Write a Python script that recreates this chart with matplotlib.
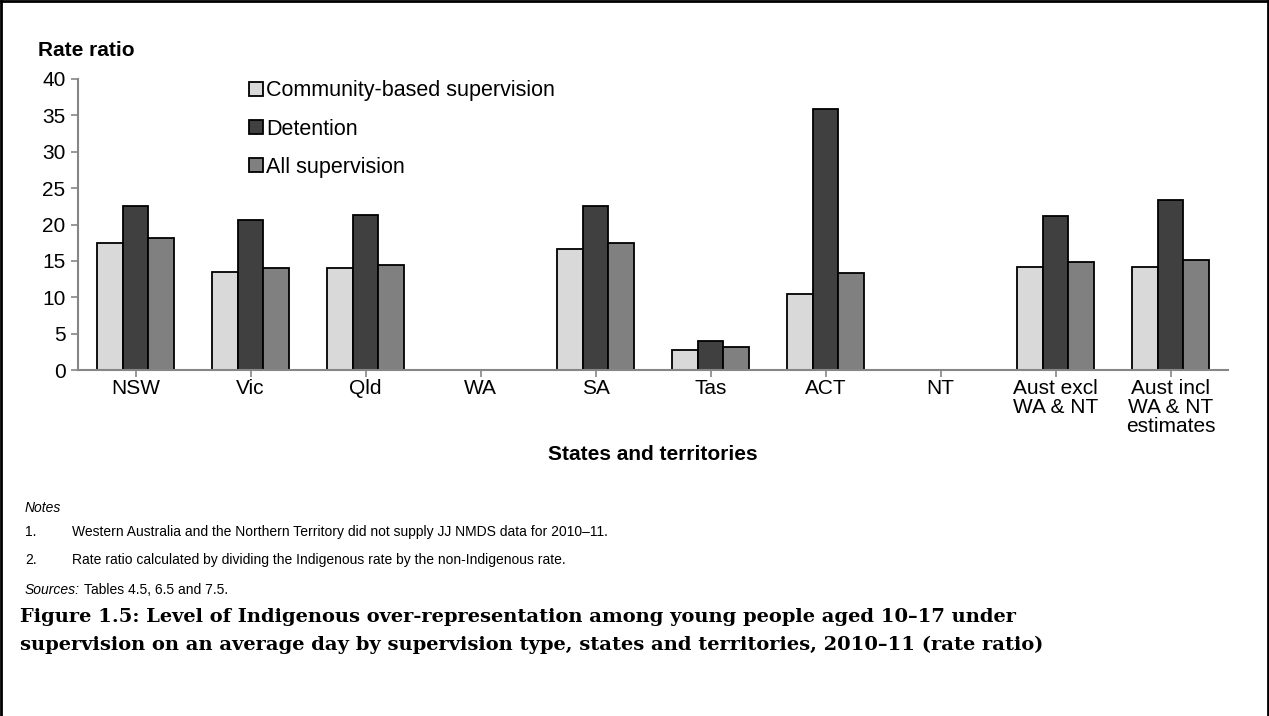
import numpy as np
import matplotlib.pyplot as plt
from matplotlib.lines import Line2D

plt.rcParams['font.family'] = ['Liberation Sans', 'DejaVu Sans']

# Данные: отношение показателей по штатам и территориям
states = ['NSW', 'Vic', 'Qld', 'WA', 'SA', 'Tas', 'ACT', 'NT',
          'Aust excl\nWA & NT', 'Aust incl\nWA & NT\nestimates']
community = [17.4, 13.5, 14.0, np.nan, 16.6, 2.8, 10.5, np.nan, 14.1, 14.2]
detention = [22.6, 20.6, 21.3, np.nan, 22.5, 4.0, 35.9, np.nan, 21.1, 23.4]
all_supervision = [18.2, 14.0, 14.5, np.nan, 17.5, 3.1, 13.3, np.nan, 14.8, 15.1]
series_names = ['Community-based supervision', 'Detention', 'All supervision']
colors = ['#d9d9d9', '#404040', '#808080']

fig = plt.figure(figsize=(12.69, 7.16), dpi=100)
ax = fig.add_axes([0.0615, 0.4832, 0.9062, 0.4065])

x = np.arange(len(states))
w = 0.222
for i, (vals, name, c) in enumerate(zip([community, detention, all_supervision], series_names, colors)):
    ax.bar(x + (i - 1) * w, vals, width=w, color=c, edgecolor='black', linewidth=1.3, label=name)

ax.set_xlim(-0.5, len(states) - 0.5)
ax.set_ylim(0, 40)
ax.set_yticks(range(0, 41, 5))
ax.set_xticks(x)
ax.set_xticklabels(states, fontsize=15, linespacing=1.0)
ax.tick_params(axis='y', labelsize=15, color='#868686', length=5, width=1.2, pad=4)
ax.tick_params(axis='x', color='#868686', length=5, width=1.2, pad=1.5)
for s in ['top', 'right']:
    ax.spines[s].set_visible(False)
for s in ['left', 'bottom']:
    ax.spines[s].set_color('#868686')
    ax.spines[s].set_linewidth(1.5)

leg = ax.legend(loc='upper left', bbox_to_anchor=(0.132, 1.062), frameon=False, fontsize=15.5,
                handlelength=0.65, handleheight=0.65, handletextpad=0.15, labelspacing=0.8)

fig.text(38 / 1269, 1 - 50 / 716, 'Rate ratio', fontsize=15, fontweight='bold', va='center')
fig.text(653 / 1269, 1 - 455 / 716, 'States and territories', fontsize=15, fontweight='bold',
         ha='center', va='center')

fig.text(25 / 1269, 1 - 508 / 716, 'Notes', fontsize=10, style='italic', va='center')
fig.text(25 / 1269, 1 - 532 / 716, '1.', fontsize=10, va='center')
fig.text(72 / 1269, 1 - 532 / 716,
         'Western Australia and the Northern Territory did not supply JJ NMDS data for 2010\u201311.',
         fontsize=10, va='center')
fig.text(25 / 1269, 1 - 560 / 716, '2.', fontsize=10, va='center')
fig.text(72 / 1269, 1 - 560 / 716,
         'Rate ratio calculated by dividing the Indigenous rate by the non-Indigenous rate.',
         fontsize=10, va='center')
src = fig.text(25 / 1269, 1 - 590 / 716, 'Sources:', fontsize=10, style='italic', va='center')
renderer = fig.canvas.get_renderer()
src_end = src.get_window_extent(renderer).x1
fig.text((src_end + 4) / 1269, 1 - 590 / 716, 'Tables 4.5, 6.5 and 7.5.', fontsize=10, va='center')

caption = ['Figure 1.5: Level of Indigenous over-representation among young people aged 10\u201317 under',
           'supervision on an average day by supervision type, states and territories, 2010\u201311 (rate ratio)']
for line, yy in zip(caption, [617, 645]):
    fig.text(20 / 1269, 1 - yy / 716, line, fontsize=14, fontweight='bold',
             family=['DejaVu Serif'], va='center')

# рамка вокруг рисунка
for xs, ys in [([0.001, 0.999], [0.998, 0.998]), ([0.001, 0.001], [0, 0.998]), ([0.999, 0.999], [0, 0.998])]:
    fig.add_artist(Line2D(xs, ys, color='black', linewidth=2, transform=fig.transFigure))

fig.savefig('out.png', dpi=100)
